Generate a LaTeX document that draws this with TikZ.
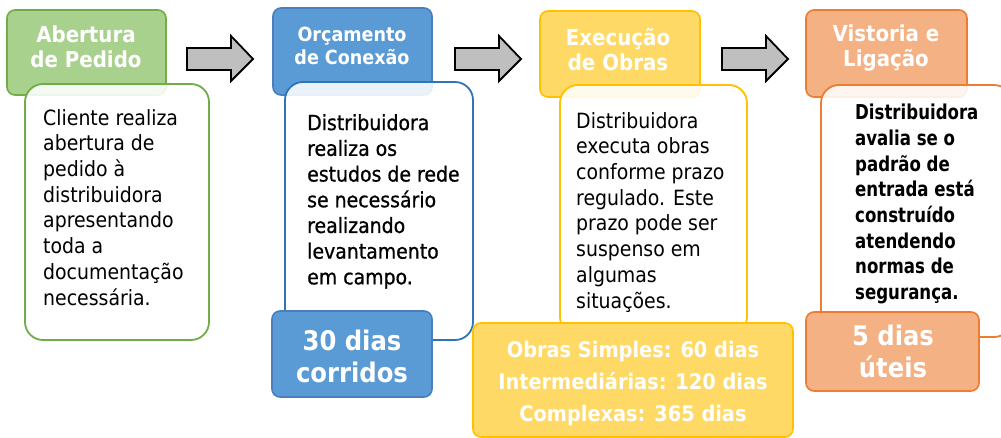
\documentclass[tikz,border=0pt]{standalone}
\usepackage{fontspec}
\setmainfont{DejaVu Sans Condensed}
\newfontfamily\semib[FakeBold=0.8]{DejaVu Sans Condensed}
\newfontfamily\narrowbold[FakeStretch=0.9]{DejaVu Sans Condensed Bold}
\definecolor{grfill}{HTML}{A9D18E}
\definecolor{grline}{HTML}{70AD47}
\definecolor{blfill}{HTML}{5B9BD5}
\definecolor{blline}{HTML}{4A7EC0}
\definecolor{bldark}{HTML}{2E75B6}
\definecolor{yefill}{HTML}{FFD966}
\definecolor{yeline}{HTML}{FFC000}
\definecolor{orfill}{HTML}{F4B183}
\definecolor{orline}{HTML}{ED7D31}
\definecolor{arrfill}{HTML}{BFBFBF}
\begin{document}
\begin{tikzpicture}[x=1pt,y=-1pt,
  box/.style={draw, line width=1.6pt, rounded corners=8pt, anchor=north west, inner sep=0pt, outer sep=0pt},
  body/.style={draw, line width=1.8pt, rounded corners=18pt, anchor=north west, inner sep=0pt, outer sep=0pt, fill=white, fill opacity=0.88},
  ttl/.style={text=white, align=center, inner sep=0pt, font=\bfseries\fontsize{22}{25}\selectfont},
  bigt/.style={text=white, align=center, inner sep=0pt, font=\bfseries\fontsize{27}{32}\selectfont},
  txt/.style={text=black, align=left, inner sep=0pt, anchor=north west, font=\fontsize{21}{25.7}\selectfont},
  blk/.style={draw=black, line width=1.8pt, fill=arrfill, line join=miter}
]
\useasboundingbox (0,0) rectangle (1001,438);
\clip (0,0) rectangle (1001,438);

% ---- step 1
\node[box, draw=grline, fill=grfill, minimum width=159pt, minimum height=85pt] (h1) at (7,10) {};
\node[ttl] (h1t) at (86,47) {Abertura\\de Pedido};
\node[body, draw=grline, minimum width=184pt, minimum height=256pt] (b1) at (25,84) {};
\node[txt] (b1t) at (43,109) {Cliente realiza\\abertura de\\pedido à\\distribuidora\\apresentando\\toda a\\documentação\\necessária.};

% ---- step 2
\node[box, draw=blline, fill=blfill, minimum width=159pt, minimum height=87pt] (h2) at (273,8) {};
\node[ttl, font=\bfseries\fontsize{19.5}{23}\selectfont] (h2t) at (352,46) {Orçamento\\de Conexão};
\node[body, draw=bldark, minimum width=188pt, minimum height=258pt] (b2) at (285,82) {};
\node[txt, font=\semib\fontsize{21}{25.7}\selectfont] (b2t) at (307,114) {Distribuidora\\realiza os\\estudos de rede\\se necessário\\realizando\\levantamento\\em campo.};
\node[box, draw=blline, fill=blfill, minimum width=160pt, minimum height=86pt] (f2) at (272,311) {};
\node[bigt] (f2t) at (352,356) {30 dias\\corridos};

% ---- step 3
\node[box, draw=yeline, fill=yefill, minimum width=160pt, minimum height=86pt] (h3) at (540,11) {};
\node[ttl] (h3t) at (618,50) {Execução\\de Obras};
\node[body, draw=yeline, minimum width=187pt, minimum height=250pt] (b3) at (560,85) {};
\node[txt] (b3t) at (576,112) {Distribuidora\\executa obras\\conforme prazo\\regulado. Este\\prazo pode ser\\suspenso em\\algumas\\situações.};
\node[box, draw=yeline, fill=yefill, minimum width=320pt, minimum height=114pt] (f3) at (473,323) {};
\node[ttl, font=\bfseries\fontsize{21.5}{32}\selectfont] (f3t) at (633,384) {Obras Simples: 60 dias\\Intermediárias: 120 dias\\Complexas: 365 dias};

% ---- step 4
\node[box, draw=orline, fill=orfill, minimum width=161pt, minimum height=87pt] (h4) at (806,10) {};
\node[ttl] (h4t) at (886,48) {Vistoria e\\Ligação};
\node[body, draw=orline, minimum width=191pt, minimum height=252pt] (b4) at (821,85) {};
\node[txt, font=\narrowbold\fontsize{20.5}{25.7}\selectfont] (b4t) at (855,104) {Distribuidora\\avalia se o\\padrão de\\entrada está\\construído\\atendendo\\normas de\\segurança.};
\node[box, draw=orline, fill=orfill, minimum width=173pt, minimum height=79pt] (f4) at (806,312) {};
\node[bigt] (f4t) at (893,351) {5 dias\\úteis};

% ---- block arrows
\foreach \n/\a/\b/\c in {1/187/231/253, 2/455/499/521, 3/722/766/788}{
  \coordinate (a\n s) at (\a,59);
  \coordinate (a\n t) at (\c,59);
  \draw[blk] (\a,48) -- (\b,48) -- (\b,36) -- (a\n t) -- (\b,81) -- (\b,70) -- (\a,70) -- cycle;
}
\end{tikzpicture}
\end{document}
